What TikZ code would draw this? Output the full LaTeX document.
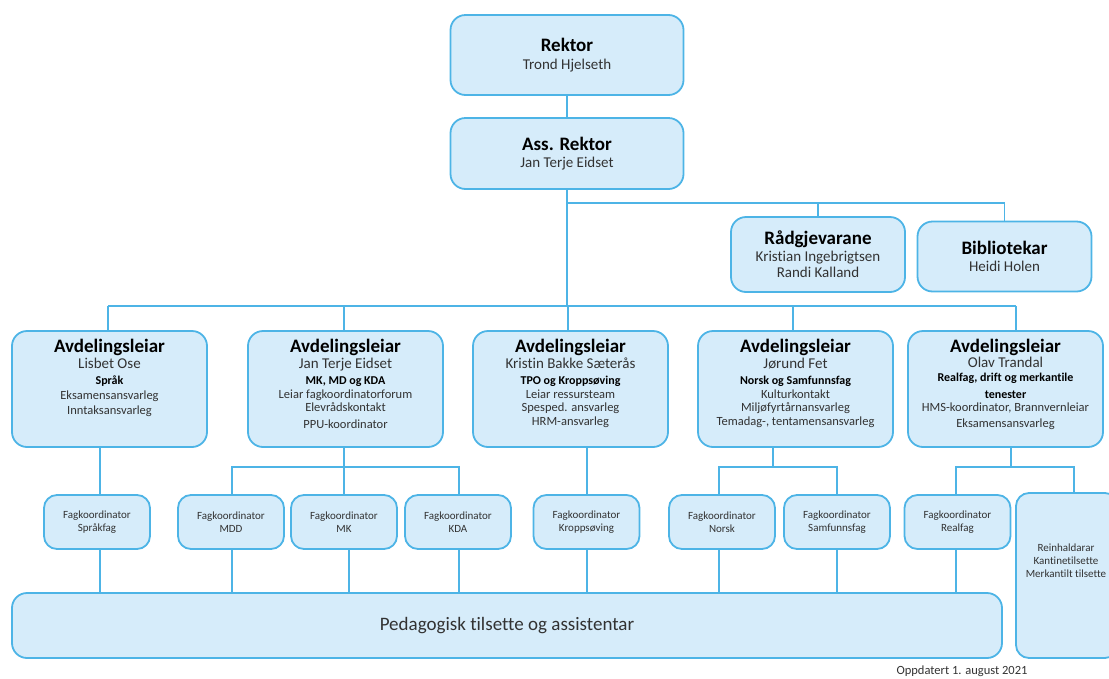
\documentclass[tikz,border=0pt]{standalone}
\usepackage{fontspec}
\setmainfont{Carlito}[Ligatures=NoCommon]
\usetikzlibrary{positioning}
\definecolor{boxblue}{RGB}{214,236,250}
\definecolor{lineblue}{RGB}{77,180,230}
\definecolor{txtgrey}{RGB}{50,50,50}
\newcommand{\hd}[1]{{\fontsize{19}{21}\selectfont\bfseries\color{black}#1}}
\newcommand{\namefont}{\fontsize{15}{17}\selectfont}
\newcommand{\subj}[1]{{\fontsize{12}{14}\selectfont\bfseries\color{black}#1}}

\tikzset{
  orgbox/.style={draw=lineblue, fill=boxblue, line width=1.8pt, rounded corners=15pt,
    align=center, inner sep=0pt, text=txtgrey, font=\fontsize{15}{16.5}\selectfont},
  topbox/.style={orgbox, minimum width=233pt},
  avdbox/.style={orgbox, minimum width=195pt, minimum height=116pt},
  avdtxt/.style={align=center, inner sep=0pt, text=txtgrey, font=\fontsize{12.5}{14.5}\selectfont},
  fkbox/.style={orgbox, rounded corners=13pt, minimum width=106pt, minimum height=54pt,
    font=\fontsize{11}{13}\selectfont},
  link/.style={draw=lineblue, line width=1.4pt},
}

\begin{document}
\begin{tikzpicture}[x=1pt,y=-1pt]
\clip (0,0) rectangle (1109,678);

% leiinga
\node[topbox, minimum height=80pt] (rektor) at (567,55) {\hd{Rektor}\\[1pt] Trond Hjelseth};
\node[topbox, minimum height=71pt] (ass) at (567,153.5) {\hd{Ass. Rektor}\\ Jan Terje Eidset};
\node[orgbox, minimum width=174pt, minimum height=75pt] (rad) at (818,254.5)
  {\hd{Rådgjevarane}\\ Kristian Ingebrigtsen\\ Randi Kalland};
\node[orgbox, minimum width=174pt, minimum height=70pt] (bib) at (1004.5,256.5)
  {\hd{Bibliotekar}\\ Heidi Holen};

% avdelingsleiarar
\node[avdbox] (avdA) at (109.5,389) {};
\node[avdbox] (avdB) at (345.5,389) {};
\node[avdbox] (avdC) at (570.5,389) {};
\node[avdbox] (avdD) at (795.5,389) {};
\node[avdbox] (avdE) at (1005.5,389) {};

\node[avdtxt, below=9pt of avdA.north] (avdAtxt)
  {\hd{Avdelingsleiar}\\[1pt] {\namefont Lisbet Ose}\\[2pt] \subj{Språk}\\
   Eksamensansvarleg\\[1pt] Inntaksansvarleg};
\node[avdtxt, below=9pt of avdB.north] (avdBtxt)
  {\hd{Avdelingsleiar}\\[1pt] {\namefont Jan Terje Eidset}\\[2pt] \subj{MK, MD og KDA}\\[-1pt]
   Leiar fagkoordinatorforum\\[-1pt] Elevrådskontakt\\[2pt] PPU-koordinator};
\node[avdtxt, below=9pt of avdC.north] (avdCtxt)
  {\hd{Avdelingsleiar}\\[1pt] {\namefont Kristin Bakke Sæterås}\\[2pt] \subj{TPO og Kroppsøving}\\[-1pt]
   Leiar ressursteam\\[-1pt] Spesped. ansvarleg\\[-1pt] HRM-ansvarleg};
\node[avdtxt, below=9pt of avdD.north] (avdDtxt)
  {\hd{Avdelingsleiar}\\[1pt] {\namefont Jørund Fet}\\[2pt] \subj{Norsk og Samfunnsfag}\\[-1pt]
   Kulturkontakt\\[-1pt] Miljøfyrtårnansvarleg\\[-1pt] Temadag-, tentamensansvarleg};
\node[avdtxt, below=9pt of avdE.north] (avdEtxt)
  {\hd{Avdelingsleiar}\\[0pt] {\namefont Olav Trandal}\\[0pt] \subj{Realfag, drift og merkantile}\\[2pt]
   \subj{tenester}\\[-1pt] HMS-koordinator, Brannvernleiar\\[1pt] Eksamensansvarleg};

% fagkoordinatorar
\node[fkbox] (fkSpr) at (97,522) {Fagkoordinator\\ Språkfag};
\node[fkbox] (fkMDD) at (231,522) {Fagkoordinator\\ MDD};
\node[fkbox] (fkMK)  at (344,522) {Fagkoordinator\\ MK};
\node[fkbox] (fkKDA) at (458,522) {Fagkoordinator\\ KDA};
\node[fkbox] (fkKro) at (586.5,522) {Fagkoordinator\\ Kroppsøving};
\node[fkbox] (fkNor) at (722,522) {Fagkoordinator\\ Norsk};
\node[fkbox] (fkSam) at (837,522) {Fagkoordinator\\ Samfunnsfag};
\node[fkbox] (fkRea) at (957.5,522) {Fagkoordinator\\ Realfag};
\node[fkbox, minimum width=102pt, minimum height=165pt] (rein) at (1067,575.5) {};
\node[avdtxt, font=\fontsize{11}{13}\selectfont] (reintxt) at (1066,561)
  {Reinhaldarar\\ Kantinetilsette\\ Merkantilt tilsette};

\node[orgbox, minimum width=990pt, minimum height=65pt, font=\fontsize{19}{21}\selectfont]
  (ped) at (507,625.5) {Pedagogisk tilsette og assistentar};
\node[text=txtgrey, inner sep=0pt, font=\fontsize{12.5}{14}\selectfont] (dato) at (962,671)
  {Oppdatert 1. august 2021};

% linjer
\coordinate (staffbus) at (567,203);
\coordinate (avdbusL) at (108,306);
\coordinate (avdbusR) at (1016,306);
\draw[link] (rektor) -- (ass);
\draw[link] (ass.south) -- (ass.south |- avdbusL);
\draw[link] (staffbus) -| (rad.north);
\draw[link] (staffbus) -| (bib.north);
\draw[link] (avdbusL) -- (avdbusR);
\foreach \n/\x in {avdA/108, avdB/344, avdC/568, avdD/793, avdE/1016}
  \draw[link] (\x,306) -- (\n.north -| \x,306);

\draw[link] (avdA.south -| 100,0) -- (fkSpr.north -| 100,0);
\draw[link] (avdB.south -| 344,0) -- (fkMK.north -| 344,0);
\draw[link] (fkMDD.north -| 232,0) -- (232,467) -- (459,467) -- (fkKDA.north -| 459,0);
\draw[link] (avdC.south -| 587,0) -- (fkKro.north -| 587,0);
\draw[link] (avdD.south -| 773,0) -- (773,467);
\draw[link] (fkNor.north -| 719,0) -- (719,467) -- (837,467) -- (fkSam.north -| 837,0);
\draw[link] (avdE.south -| 1011,0) -- (1011,467);
\draw[link] (fkRea.north -| 956,0) -- (956,467) -- (1074,467) -- (rein.north -| 1074,0);

\foreach \n/\x in {fkSpr/100, fkMDD/232, fkMK/349, fkKDA/459, fkKro/587, fkNor/719, fkSam/837, fkRea/956}
  \draw[link] (\n.south -| \x,0) -- (ped.north -| \x,0);
\end{tikzpicture}
\end{document}
